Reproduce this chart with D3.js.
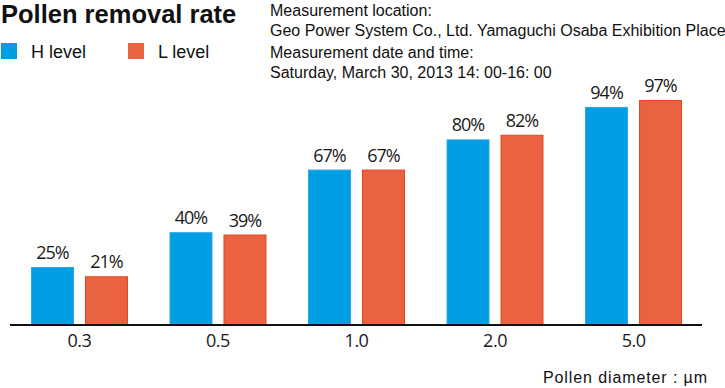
<!DOCTYPE html>
<html>
<head>
<meta charset="utf-8">
<script src="https://cdn.jsdelivr.net/npm/d3@7"></script>
<style>
  body { margin: 0; background: #fff; }
  .info { font-family: "Liberation Sans", Arial, sans-serif; font-size: 16px; fill: #111; }
  .val { font-family: "Open Sans", sans-serif; font-size: 18px; font-weight: 500; fill: #1a1a1a; letter-spacing: -1px; }
  .tick { font-family: "Open Sans", sans-serif; font-size: 18px; font-weight: 500; fill: #1a1a1a; letter-spacing: -0.5px; }
</style>
</head>
<body>
<div id="chart"></div>
<script>
// pollen removal chart
const diameters = ["0.3", "0.5", "1.0", "2.0", "5.0"];
const seriesNames = ["H level", "L level"];
const hLevel = [25, 40, 67, 80, 94];
const lLevel = [21, 39, 67, 82, 97];
const infoLines = [
    "Measurement location:",
    "Geo Power System Co., Ltd. Yamaguchi Osaba Exhibition Place",
    "Measurement date and time:",
    "Saturday, March 30, 2013 14: 00-16: 00"
];

const width = 725;
const height = 388;
const colors = { "H level": "#009ee3", "L level": "#ea6240" };
const strokes = { "H level": "#2aa8ea", "L level": "#e2451f" };

const svg = d3.select("#chart")
    .append("svg")
    .attr("width", width)
    .attr("height", height);

const baseY = 325;

const x0 = d3.scaleBand()
    .domain(diameters)
    .range([10, 703])
    .paddingInner(0.3)
    .paddingOuter(0.1515);

const x1 = d3.scaleBand()
    .domain(seriesNames)
    .range([0, x0.bandwidth()])
    .paddingInner(0.2037);

const y = d3.scaleLinear()
    .domain([0, 100])
    .range([baseY, baseY - 232]);

const rows = diameters.map((d, i) => ({
    key: d,
    values: [
        { name: "H level", value: hLevel[i] },
        { name: "L level", value: lLevel[i] }
    ]
}));

const group = svg.append("g")
    .selectAll("g")
    .data(rows)
    .enter().append("g")
    .attr("transform", d => `translate(${x0(d.key)},0)`);

group.selectAll("rect")
    .data(d => d.values)
    .enter().append("rect")
    .attr("x", d => x1(d.name) + 0.5)
    .attr("y", d => y(d.value) + 0.5)
    .attr("width", x1.bandwidth() - 1)
    .attr("height", d => baseY - y(d.value) - 0.5)
    .attr("fill", d => colors[d.name])
    .attr("stroke", d => strokes[d.name])
    .attr("stroke-width", 1);

group.selectAll("text")
    .data(d => d.values)
    .enter().append("text")
    .attr("class", "val")
    .attr("x", d => x1(d.name) + x1.bandwidth() / 2)
    .attr("y", d => y(d.value) - 8)
    .attr("text-anchor", "middle")
    .text(d => d.value + "%");

// axis
const axis = svg.append("g")
    .attr("transform", `translate(0,${baseY})`)
    .call(d3.axisBottom(x0).tickSize(0).tickPadding(9));
axis.select(".domain").attr("stroke", "#111").attr("stroke-width", 2).attr("d", "M10,0H702");
axis.selectAll("text").attr("class", "tick").attr("fill", "#1a1a1a").attr("font-size", null).attr("font-family", null);

// title
svg.append("text")
    .attr("x", 1)
    .attr("y", 23)
    .attr("font-family", "Liberation Sans, Arial, sans-serif")
    .attr("font-weight", "bold")
    .attr("font-size", 25.5)
    .attr("fill", "#111")
    .text("Pollen removal rate");

// legend
const legend = svg.append("g")
    .selectAll("g")
    .data(seriesNames)
    .enter().append("g")
    .attr("transform", (d, i) => `translate(${1 + i * 127},43)`);

legend.append("rect")
    .attr("width", 16)
    .attr("height", 16)
    .attr("fill", d => colors[d]);

legend.append("text")
    .attr("x", 30)
    .attr("y", 15)
    .attr("font-family", "Liberation Sans, Arial, sans-serif")
    .attr("font-size", 18)
    .attr("fill", "#111")
    .text(d => d);

svg.append("g")
    .selectAll("text")
    .data(infoLines)
    .enter().append("text")
    .attr("class", "info")
    .attr("x", 270)
    .attr("y", (d, i) => [16, 36, 58, 78][i])
    .text(d => d);

svg.append("text")
    .attr("class", "info")
    .attr("x", 543)
    .attr("y", 383)
    .attr("font-size", 19)
    .attr("textLength", 164)
    .text("Pollen diameter : µm");
</script>
</body>
</html>
